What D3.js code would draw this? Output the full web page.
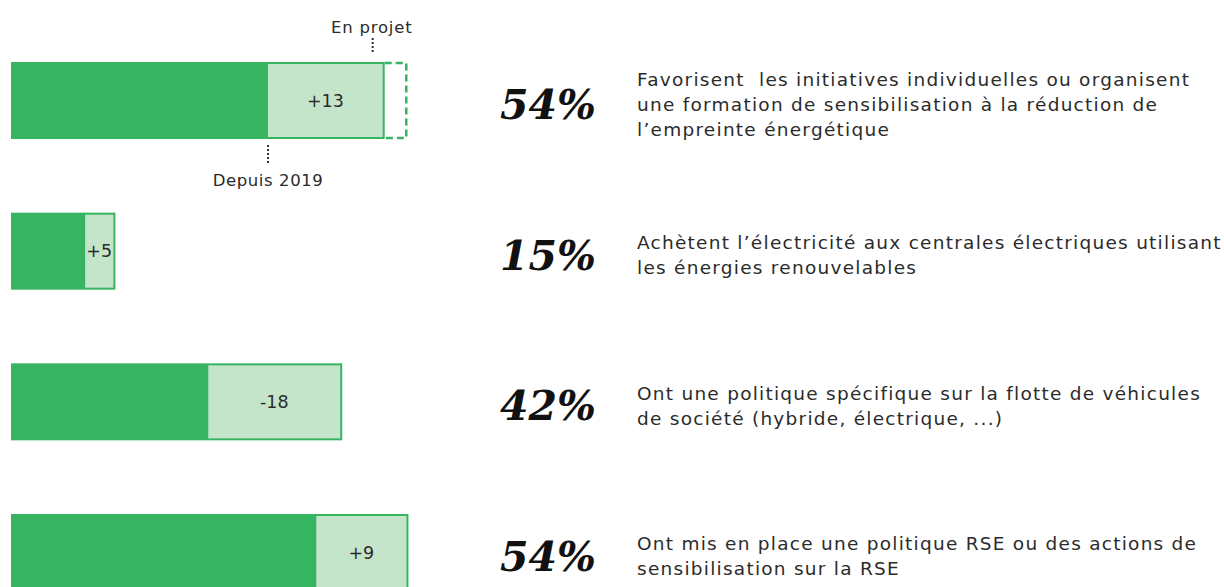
<!DOCTYPE html>
<html>
<head>
<meta charset="utf-8">
<script src="https://cdn.jsdelivr.net/npm/d3@7"></script>
<style>
  body { margin: 0; background: #fff; }
  text { white-space: pre; }
</style>
</head>
<body>
<div id="chart"></div>
<script>
// row values (bar lengths in % units)
const pctLabels = ["54%", "15%", "42%", "54%"];
const depuis2019 = [35.7, 10.3, 27.4, 42.4];
const enProjet = [16.2, 4.2, 18.6, 12.8];
const deltaLabels = ["+13", "+5", "-18", "+9"];
const descriptions = [
  ["Favorisent  les initiatives individuelles ou organisent", "une formation de sensibilisation à la réduction de", "l’empreinte énergétique"],
  ["Achètent l’électricité aux centrales électriques utilisant", "les énergies renouvelables"],
  ["Ont une politique spécifique sur la flotte de véhicules", "de société (hybride, électrique, ...)"],
  ["Ont mis en place une politique RSE ou des actions de", "sensibilisation sur la RSE"]
];
const projetExtra = 3; // dashed part on first row

const width = 1224, height = 587;
const dark = "#36b462", light = "#c5e5cb", ink = "#2b2b2b", dots = "#2a2f45";
const barH = 77;
const sans = "'DejaVu Sans', sans-serif";

const svg = d3.select("#chart").append("svg")
  .attr("width", width)
  .attr("height", height);

const x = d3.scaleLinear().domain([0, 100]).range([11, 731]);
const y = d3.scaleLinear().domain([0, 3]).range([62, 514]);

const rows = svg.selectAll("g.row")
  .data(d3.range(pctLabels.length))
  .enter().append("g")
  .attr("class", "row")
  .attr("transform", i => `translate(0,${y(i)})`);

// outer bar (dark green frame)
rows.append("rect")
  .attr("x", x(0))
  .attr("y", 0)
  .attr("width", i => x(depuis2019[i] + enProjet[i]) - x(0))
  .attr("height", barH)
  .attr("fill", dark);

// en projet part
rows.append("rect")
  .attr("x", i => x(depuis2019[i]))
  .attr("y", 2)
  .attr("width", i => x(depuis2019[i] + enProjet[i]) - x(depuis2019[i]) - 2)
  .attr("height", barH - 4)
  .attr("fill", light);

rows.append("text")
  .attr("x", i => (x(depuis2019[i]) + x(depuis2019[i] + enProjet[i])) / 2 - 1)
  .attr("y", barH / 2)
  .attr("dy", "0.35em")
  .attr("text-anchor", "middle")
  .attr("font-family", sans)
  .attr("font-size", 17.5)
  .attr("fill", ink)
  .text(i => deltaLabels[i]);

// percentage
rows.append("text")
  .attr("x", 500)
  .attr("y", barH / 2 + 4)
  .attr("dy", "0.35em")
  .attr("font-family", "'DejaVu Serif', serif")
  .attr("font-style", "italic")
  .attr("font-weight", "bold")
  .attr("font-size", 41)
  .attr("fill", "#111")
  .text(i => pctLabels[i]);

// descriptions
rows.each(function(i) {
  const lines = descriptions[i];
  const lh = 25;
  const t = d3.select(this).append("text")
    .attr("font-family", sans)
    .attr("font-size", 18.5)
    .attr("letter-spacing", 1.25)
    .attr("fill", ink);
  lines.forEach((l, k) => {
    t.append("tspan")
      .attr("x", 637)
      .attr("y", barH / 2 + 4 + (k - (lines.length - 1) / 2) * lh)
      .attr("dy", "0.35em")
      .text(l);
  });
});

// dashed "en projet" extension on first row
const r0 = depuis2019[0] + enProjet[0];
const g0 = svg.append("g").attr("transform", `translate(0,${y(0)})`);
g0.append("path")
  .attr("d", `M${x(r0)},1 H${x(r0 + projetExtra)} V${barH - 1} H${x(r0)}`)
  .attr("fill", "none")
  .attr("stroke", dark)
  .attr("stroke-width", 2.5)
  .attr("stroke-dasharray", "7,4");

// annotations
function dotted(xp, y1, y2) {
  svg.append("line")
    .attr("x1", xp).attr("x2", xp)
    .attr("y1", y1).attr("y2", y2)
    .attr("stroke", dots)
    .attr("stroke-width", 2)
    .attr("stroke-dasharray", "2,2");
}
dotted(x(r0) - 12, 38, 54);
dotted(x(depuis2019[0]), 145, 163);

svg.append("text")
  .attr("x", x(r0) - 13)
  .attr("y", 33)
  .attr("text-anchor", "middle")
  .attr("font-family", sans)
  .attr("font-size", 16.5)
  .attr("letter-spacing", 0.8)
  .attr("fill", ink)
  .text("En projet");

svg.append("text")
  .attr("x", x(depuis2019[0]))
  .attr("y", 186)
  .attr("text-anchor", "middle")
  .attr("font-family", sans)
  .attr("font-size", 16.5)
  .attr("letter-spacing", 0.6)
  .attr("fill", ink)
  .text("Depuis 2019");
</script>
</body>
</html>
